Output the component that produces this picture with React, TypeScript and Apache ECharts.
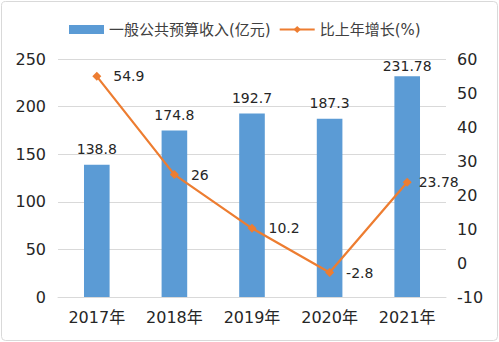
import React, { useEffect, useRef } from "react";
import * as echarts from "echarts";

const categories = ["2017年", "2018年", "2019年", "2020年", "2021年"];
const revenue = [138.8, 174.8, 192.7, 187.3, 231.78];
const growth = [54.9, 26, 10.2, -2.8, 23.78];
const revenueName = "一般公共预算收入(亿元)";
const growthName = "比上年增长(%)";

const FONT = "'DejaVu Sans', 'Noto Sans CJK SC', sans-serif";

export default function App() {
  const ref = useRef<HTMLDivElement>(null);
  useEffect(() => {
    document.body.style.margin = "0";
    const chart = echarts.init(ref.current!, null, { renderer: "svg" });
    const last = categories.length - 1;
    chart.setOption({
      animation: false,
      backgroundColor: "#ffffff",
      textStyle: { fontFamily: FONT },
      graphic: [
        {
          type: "rect",
          shape: { x: 1.5, y: 1.5, width: 496, height: 339, r: 4 },
          style: { fill: "none", stroke: "#d9d9d9", lineWidth: 1 },
          silent: true,
        },
      ],
      legend: {
        top: 17,
        left: 64,
        itemWidth: 35,
        itemHeight: 9,
        itemGap: 8,
        textStyle: { fontSize: 15, color: "#404040", fontFamily: FONT },
        data: [
          { name: revenueName, icon: "rect" },
          { name: growthName },
        ],
      },
      grid: { left: 58, right: 53, top: 59, bottom: 45 },
      xAxis: {
        type: "category",
        data: categories,
        axisLine: { lineStyle: { color: "#d9d9d9" } },
        axisTick: { show: false },
        axisLabel: { fontSize: 16, color: "#262626", margin: 12, fontFamily: FONT },
      },
      yAxis: [
        {
          type: "value",
          min: 0,
          max: 250,
          interval: 50,
          axisLine: { show: false },
          axisTick: { show: false },
          splitLine: { lineStyle: { color: "#d9d9d9" } },
          axisLabel: { fontSize: 16, color: "#262626", margin: 12, fontFamily: FONT },
        },
        {
          type: "value",
          min: -10,
          max: 60,
          interval: 10,
          axisLine: { show: false },
          axisTick: { show: false },
          splitLine: { show: false },
          axisLabel: { fontSize: 16, color: "#262626", margin: 11, fontFamily: FONT },
        },
      ],
      series: [
        {
          name: revenueName,
          type: "bar",
          data: revenue.map((v, i) =>
            i === last ? { value: v, label: { distance: 3 } } : v
          ),
          barWidth: "33%",
          itemStyle: { color: "#5B9BD5" },
          label: {
            show: true,
            position: "top",
            distance: 9,
            fontSize: 14,
            color: "#262626",
            fontFamily: FONT,
          },
        },
        {
          name: growthName,
          type: "line",
          yAxisIndex: 1,
          data: growth.map((v, i) =>
            i === last ? { value: v, label: { distance: 7 } } : v
          ),
          symbol: "diamond",
          symbolSize: 9,
          lineStyle: { color: "#ED7D31", width: 2.25 },
          itemStyle: { color: "#ED7D31" },
          label: {
            show: true,
            position: "right",
            distance: 12,
            fontSize: 14,
            color: "#262626",
            fontFamily: FONT,
          },
        },
      ],
    });
    return () => chart.dispose();
  }, []);
  return <div ref={ref} style={{ width: 499, height: 342 }} />;
}
